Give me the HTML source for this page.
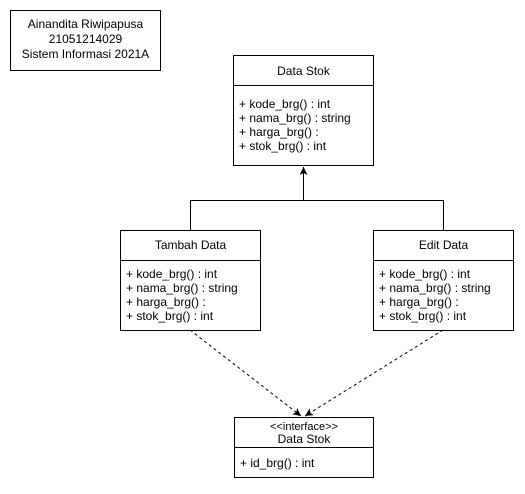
<!DOCTYPE html>
<html><head><style>
body{margin:0;width:525px;height:489px;background:#fff;overflow:hidden}
svg{font-family:"Liberation Sans",Arial,sans-serif;font-size:12px}
</style></head><body>
<svg width="525" height="489" viewBox="0 0 525 489">
<defs>
<marker id="a" markerWidth="10" markerHeight="10" refX="8" refY="5" orient="auto" markerUnits="userSpaceOnUse">
<path d="M0,1 L8,5 L0,9 L2,5 Z" fill="#000"/></marker>
</defs>
<g fill="#fff" stroke="#000" stroke-width="1">
<rect x="10.5" y="10.5" width="150" height="60"/>
<rect x="233.5" y="55.5" width="140" height="110"/>
<line x1="233.5" y1="85.5" x2="373.5" y2="85.5"/>
<rect x="120.5" y="230.5" width="140" height="100"/>
<line x1="120.5" y1="260.5" x2="260.5" y2="260.5"/>
<rect x="373.5" y="230.5" width="140" height="100"/>
<line x1="373.5" y1="260.5" x2="513.5" y2="260.5"/>
<rect x="234.5" y="417.5" width="139" height="60"/>
<line x1="234.5" y1="447.5" x2="373.5" y2="447.5"/>
</g>
<g fill="none" stroke="#000">
<path d="M190.5,230 V200.5 H443.5 V230"/>
<line x1="303.5" y1="200" x2="303.5" y2="167" marker-end="url(#a)"/>
<line x1="190" y1="330" x2="301" y2="416" stroke-dasharray="3,3" marker-end="url(#a)"/>
<line x1="443" y1="330" x2="305" y2="416" stroke-dasharray="3,3" marker-end="url(#a)"/>
</g>
<g fill="#000" text-anchor="middle">
<text x="85.5" y="28">Ainandita Riwipapusa</text>
<text x="85.5" y="43">21051214029</text>
<text x="85.5" y="58">Sistem Informasi 2021A</text>
<text x="303.5" y="75">Data Stok</text>
<text x="190.5" y="249">Tambah Data</text>
<text x="443.5" y="249">Edit Data</text>
<text x="304" y="430" font-size="11">&lt;&lt;interface&gt;&gt;</text>
<text x="304" y="443">Data Stok</text>
</g>
<g fill="#000">
<text x="239" y="108">+ kode_brg() : int</text>
<text x="239" y="122">+ nama_brg() : string</text>
<text x="239" y="136">+ harga_brg() :</text>
<text x="239" y="150">+ stok_brg() : int</text>
<text x="126" y="278">+ kode_brg() : int</text>
<text x="126" y="292">+ nama_brg() : string</text>
<text x="126" y="306">+ harga_brg() :</text>
<text x="126" y="320">+ stok_brg() : int</text>
<text x="379" y="278">+ kode_brg() : int</text>
<text x="379" y="292">+ nama_brg() : string</text>
<text x="379" y="306">+ harga_brg() :</text>
<text x="379" y="320">+ stok_brg() : int</text>
<text x="240" y="467">+ id_brg() : int</text>
</g>
</svg>
</body></html>
